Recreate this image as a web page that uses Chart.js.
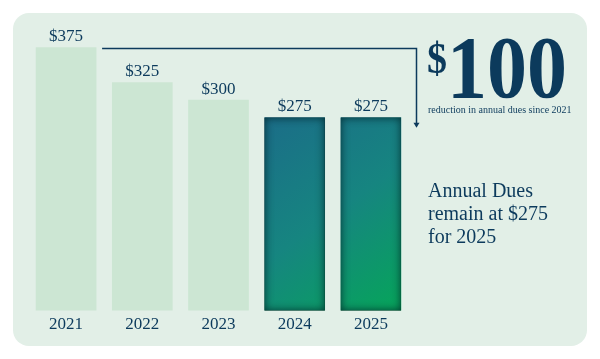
<!DOCTYPE html>
<html>
<head>
<meta charset="utf-8">
<script src="https://cdn.jsdelivr.net/npm/chart.js@4/dist/chart.umd.min.js"></script>
<style>
html,body{margin:0;padding:0;background:#ffffff;}
#wrap{width:600px;height:359px;}
</style>
</head>
<body>
<div id="wrap"><canvas id="c" width="600" height="359"></canvas></div>
<script>
// ---- data ----
const years = ['2021', '2022', '2023', '2024', '2025'];
const dues = [375, 325, 300, 275, 275];
const highlightFrom = 3; // index from which bars are highlighted
const bigNumber = '100';
const bigCurrency = '$';
const subCaption = 'reduction in annual dues since 2021';
const noteLines = ['Annual Dues', 'remain at $275', 'for 2025'];
const yMax = 400;

// ---- styles ----
const NAVY = '#0c3a5c';
const CARD = '#e2efe7';
const LIGHT = '#cce6d3';
const SERIF = '"Liberation Serif", "Times New Roman", serif';

function darkGradient(chart) {
  const xs = chart.scales.x, ys = chart.scales.y;
  if (!xs || !ys || !chart.chartArea) return '#168680';
  const x0 = xs.getPixelForValue(highlightFrom) - 30;
  const x1 = xs.getPixelForValue(years.length - 1) + 30;
  const y0 = ys.getPixelForValue(Math.max(...dues.slice(highlightFrom)));
  const y1 = ys.getPixelForValue(0);
  const g = chart.ctx.createLinearGradient(x0, y0, x1, y1);
  g.addColorStop(0, '#1b6d88');
  g.addColorStop(0.5, '#168580');
  g.addColorStop(1, '#06a55a');
  return g;
}

const decor = {
  id: 'decor',
  beforeDraw(chart) {
    const ctx = chart.ctx;
    ctx.save();
    ctx.fillStyle = '#ffffff';
    ctx.fillRect(0, 0, chart.width, chart.height);
    ctx.fillStyle = CARD;
    ctx.beginPath();
    ctx.roundRect(13, 13, 574, 333, 16);
    ctx.fill();
    ctx.restore();
  },
  afterDatasetsDraw(chart) {
    const ctx = chart.ctx;
    const meta = chart.getDatasetMeta(0);
    const ys = chart.scales.y;
    // inner shadows on highlighted bars
    meta.data.forEach((bar, i) => {
      if (i < highlightFrom) return;
      const p = bar.getProps(['x', 'y', 'base', 'width'], true);
      const x = p.x - p.width / 2, y = p.y, w = p.width, h = p.base - p.y;
      ctx.save();
      ctx.beginPath();
      ctx.rect(x, y, w, h);
      ctx.clip();
      ctx.shadowColor = 'rgba(0,35,40,0.85)';
      ctx.shadowBlur = 9;
      ctx.lineWidth = 12;
      ctx.strokeStyle = '#000';
      ctx.strokeRect(x - 6, y - 6, w + 12, h + 12);
      ctx.restore();
    });
    // value labels
    ctx.save();
    ctx.fillStyle = NAVY;
    ctx.font = '17px ' + SERIF;
    ctx.textAlign = 'center';
    ctx.textBaseline = 'middle';
    meta.data.forEach((bar, i) => {
      ctx.fillText('$' + dues[i], bar.x, bar.y - 11);
    });
    ctx.restore();

    // arrow from first bar top to highlighted level
    const first = meta.data[0];
    const yTop = Math.round(ys.getPixelForValue(dues[0])) + 0.5;
    const xStart = first.x + first.width / 2 + 6;
    const xEnd = 416.5;
    const yEnd = ys.getPixelForValue(dues[dues.length - 1]) + 9;
    ctx.save();
    ctx.strokeStyle = NAVY;
    ctx.fillStyle = NAVY;
    ctx.lineWidth = 1.5;
    ctx.beginPath();
    ctx.moveTo(xStart, yTop);
    ctx.lineTo(xEnd, yTop);
    ctx.lineTo(xEnd, yEnd - 3);
    ctx.stroke();
    ctx.beginPath();
    ctx.moveTo(xEnd - 3, yEnd - 4);
    ctx.lineTo(xEnd + 3, yEnd - 4);
    ctx.lineTo(xEnd, yEnd + 1);
    ctx.closePath();
    ctx.fill();
    ctx.restore();

    // big number
    ctx.save();
    ctx.fillStyle = NAVY;
    ctx.textBaseline = 'alphabetic';
    ctx.textAlign = 'left';
    ctx.save();
    ctx.translate(447, 97);
    ctx.scale(1, 1.1);
    ctx.font = 'bold 80px ' + SERIF;
    ctx.fillText(bigNumber, 0, 0);
    ctx.restore();
    ctx.save();
    ctx.translate(427, 73);
    ctx.scale(1, 1.1);
    ctx.font = 'bold 40px ' + SERIF;
    ctx.fillText(bigCurrency, 0, 0);
    ctx.restore();
    ctx.font = '10px ' + SERIF;
    ctx.fillText(subCaption, 428, 113);
    ctx.font = '20px ' + SERIF;
    ctx.textBaseline = 'middle';
    noteLines.forEach((t, i) => ctx.fillText(t, 428, 192 + i * 23));
    ctx.restore();
  }
};

new Chart(document.getElementById('c'), {
  type: 'bar',
  data: {
    labels: years,
    datasets: [{
      data: dues,
      backgroundColor: (c) => c.dataIndex >= highlightFrom ? darkGradient(c.chart) : LIGHT,
      borderWidth: 0,
      barThickness: 60
    }]
  },
  options: {
    responsive: false,
    devicePixelRatio: 1,
    animation: false,
    layout: { padding: { left: 28, right: 191, top: 30, bottom: 20 } },
    plugins: { legend: { display: false }, tooltip: { enabled: false } },
    scales: {
      x: {
        grid: { display: false, drawTicks: false },
        border: { display: false },
        ticks: { color: NAVY, font: { family: SERIF, size: 17 }, padding: 4 }
      },
      y: { display: false, min: 0, max: yMax }
    }
  },
  plugins: [decor]
});
</script>
</body>
</html>
